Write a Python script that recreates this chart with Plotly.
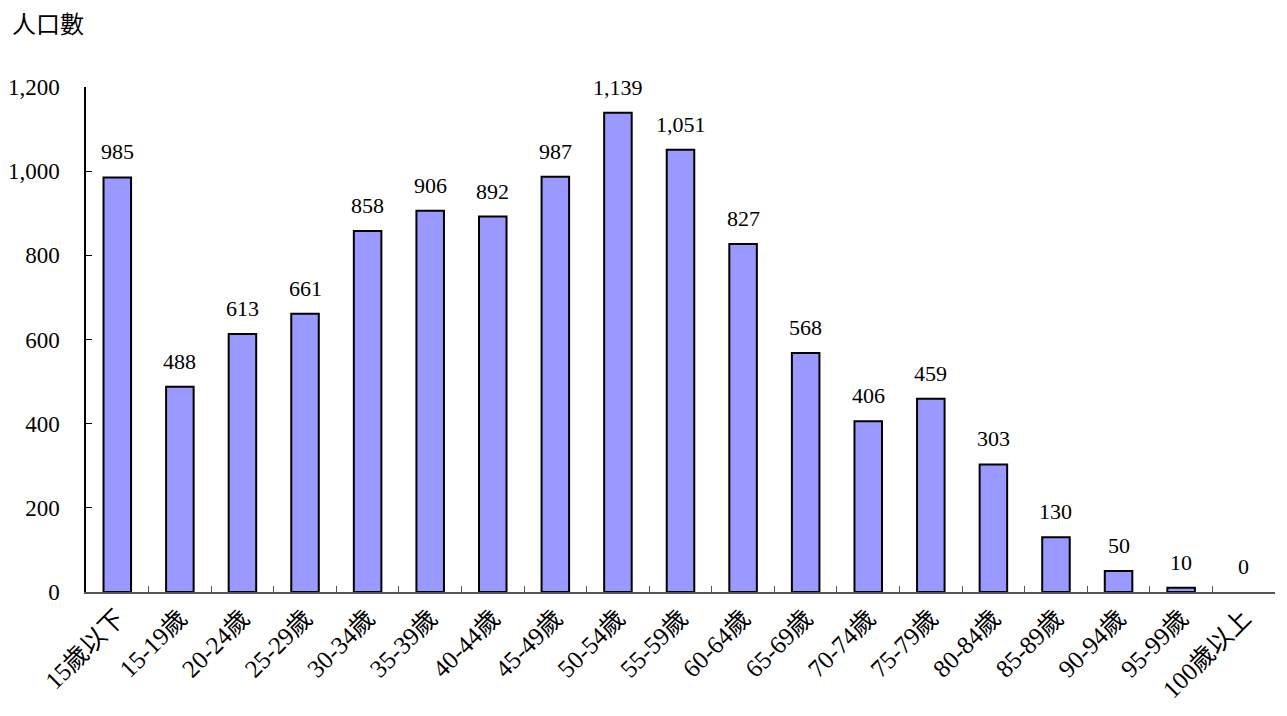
import plotly.graph_objects as go

categories = ["15歲以下", "15-19歲", "20-24歲", "25-29歲", "30-34歲", "35-39歲", "40-44歲",
              "45-49歲", "50-54歲", "55-59歲", "60-64歲", "65-69歲", "70-74歲", "75-79歲",
              "80-84歲", "85-89歲", "90-94歲", "95-99歲", "100歲以上"]
population = [985, 488, 613, 661, 858, 906, 892, 987, 1139, 1051, 827, 568, 406, 459,
              303, 130, 50, 10, 0]
y_ticks = [0, 200, 400, 600, 800, 1000, 1200]

FONT = "Liberation Serif, Times New Roman, Noto Sans CJK TC, serif"

fig = go.Figure()
fig.add_trace(go.Bar(
    x=categories, y=population,
    marker=dict(color="#9999FF",
                line=dict(color="black", width=[2 if v > 0 else 0 for v in population])),
    width=0.44,
))

for c, v in zip(categories, population):
    fig.add_annotation(x=c, y=v, text=f"{v:,}", showarrow=False, yanchor="bottom",
                       yshift=11, font=dict(family=FONT, size=22, color="black"))

fig.add_annotation(text="人口數", xref="paper", yref="paper", x=-0.064, y=1.123,
                   xanchor="left", yanchor="middle", showarrow=False,
                   font=dict(family=FONT, size=24, color="black"))

fig.update_layout(
    width=1271, height=700,
    margin=dict(l=78, r=4, t=79, b=116),
    plot_bgcolor="white", paper_bgcolor="white",
    showlegend=False,
    font=dict(family=FONT, size=22, color="black"),
)
fig.update_xaxes(
    showline=True, linecolor="#555555", linewidth=1.5,
    ticks="inside", tickson="boundaries", ticklen=6, tickcolor="#555555",
    tickangle=-45, tickfont=dict(family=FONT, size=25),
    showgrid=False, automargin=False,
)
fig.update_yaxes(
    range=[0, 1200], tickvals=y_ticks, ticktext=[f"{t:,}" for t in y_ticks],
    showline=True, linecolor="black", linewidth=1.5,
    ticks="inside", ticklen=6, tickcolor="black",
    showgrid=False, zeroline=False, automargin=False,
    tickfont=dict(family=FONT, size=23), ticklabelstandoff=20,
)

fig.write_html("out.html")
